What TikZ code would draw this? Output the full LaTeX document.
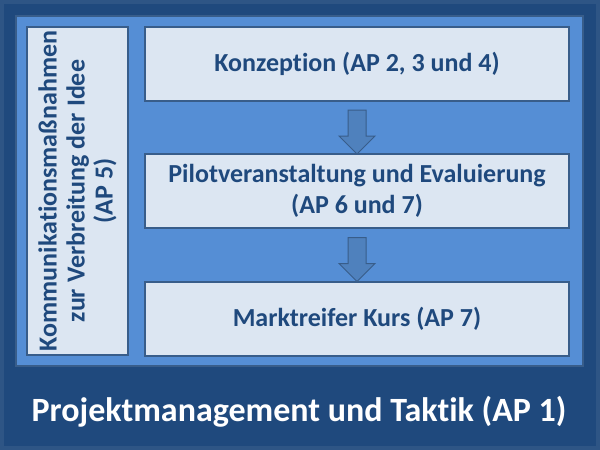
\documentclass[tikz,border=0pt]{standalone}
\usepackage{fontspec}
\setmainfont{Carlito}[Ligatures=NoCommon]
\usepackage{tikz}
\usetikzlibrary{positioning}
\usetikzlibrary{shapes.arrows}
\usepackage{xcolor}
\definecolor{darkblue}{HTML}{1F497D}
\definecolor{midblue}{HTML}{558ED5}
\definecolor{paleblue}{HTML}{DCE6F2}
\definecolor{edgeblue}{HTML}{385D8A}
\definecolor{arrowblue}{HTML}{4F81BD}

\begin{document}
\begin{tikzpicture}[x=1pt, y=-1pt,
        % Node styles
        panel/.style={draw=edgeblue, fill=midblue, line width=1.5pt, minimum width=567pt, minimum height=350pt, inner sep=0pt},
        stage/.style={draw=edgeblue, fill=paleblue, line width=1.2pt, minimum width=424pt, minimum height=74pt, inner sep=0pt, align=center, text=darkblue, font=\fontsize{26}{31}\selectfont\bfseries},
        sidebar/.style={stage, minimum width=328pt, minimum height=101pt, rotate=90, font=\fontsize{26}{28}\selectfont\bfseries},
        flowarrow/.style={single arrow, draw=edgeblue, fill=arrowblue, line width=1pt, minimum height=44pt, inner sep=0pt, inner ysep=8.5pt, single arrow head extend=9pt, rotate=-90},
        title/.style={text=white, font=\fontsize{34}{40}\selectfont\bfseries}
    ]
    \useasboundingbox (0,0) rectangle (600,450);
    
    % Background
    \draw[fill=darkblue, draw=edgeblue!60!darkblue, line width=4pt] (2,2) rectangle (598,448);
    \node[panel] (panel) at (299.5,191) {};
    
    % Work packages
    \node[sidebar] (komm) at (77.5,191) {Kommunikationsmaßnahmen\\zur Verbreitung der Idee\\(AP 5)};
    \node[stage] (konz) at (357,64) {Konzeption (AP 2, 3 und 4)};
    \node[stage] (pilot) at (357,191) {Pilotveranstaltung und Evaluierung\\(AP 6 und 7)};
    \node[stage] (markt) at (357,319) {Marktreifer Kurs (AP 7)};
    
    % Flow arrows
    \path (konz) -- (pilot) node[flowarrow, midway] (arr1) {};
    \path (pilot) -- (markt) node[flowarrow, midway] (arr2) {};
    
    % Title
    \node[title] (title) at (299,412) {Projektmanagement und Taktik (AP 1)};
    
\end{tikzpicture}
\end{document}
